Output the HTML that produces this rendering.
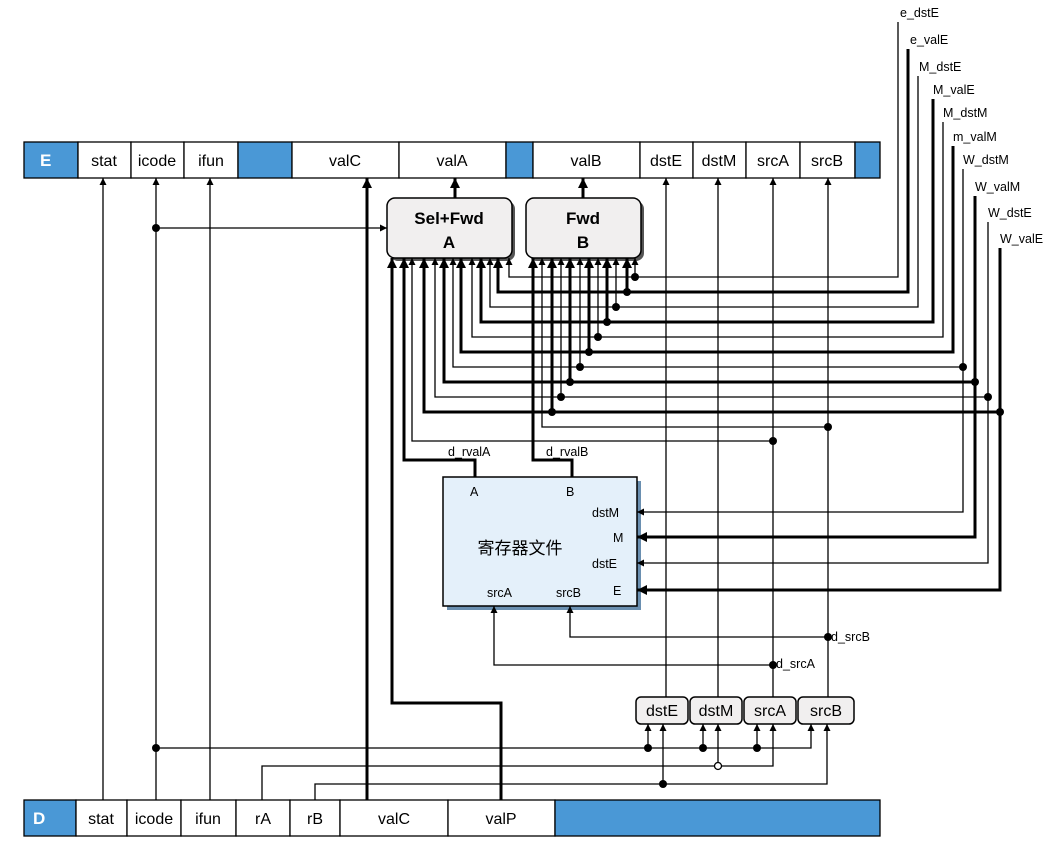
<!DOCTYPE html>
<html><head><meta charset="utf-8"><style>
html,body{margin:0;padding:0;background:#fff}
svg{display:block}
text{font-family:"Liberation Sans","Noto Sans CJK SC",sans-serif;fill:#000}
.t{stroke:#000;stroke-width:1.3;fill:none;marker-end:url(#a)}
.k{stroke:#000;stroke-width:3;fill:none;marker-end:url(#b)}
.cell{fill:#fff;stroke:#000;stroke-width:1.3}
.blue{fill:#4a98d6;stroke:#000;stroke-width:1.3}
.c{font-size:16px;text-anchor:middle}
.s{font-size:12.5px}
.bx{font-size:17px;text-anchor:middle;font-weight:bold}
</style></head><body>
<svg width="1054" height="846" viewBox="0 0 1054 846" xmlns="http://www.w3.org/2000/svg">
<defs>
<marker id="a" viewBox="0 0 10 10" refX="10" refY="5" markerWidth="7" markerHeight="8" markerUnits="userSpaceOnUse" orient="auto"><path d="M0,0 L10,5 L0,10 z" fill="#000"/></marker>
<marker id="b" viewBox="0 0 10 10" refX="10" refY="5" markerWidth="10" markerHeight="10" markerUnits="userSpaceOnUse" orient="auto"><path d="M0,0 L10,5 L0,10 z" fill="#000"/></marker>
</defs>

<rect class="blue" x="24" y="142" width="54" height="36"/>
<text x="40" y="166" style="font-size:17px;font-weight:bold;fill:#fff">E</text>
<rect class="cell" x="78" y="142" width="53" height="36"/><text class="c" x="104" y="166">stat</text>
<rect class="cell" x="131" y="142" width="53" height="36"/><text class="c" x="157" y="166">icode</text>
<rect class="cell" x="184" y="142" width="54" height="36"/><text class="c" x="211" y="166">ifun</text>
<rect class="blue" x="238" y="142" width="54" height="36"/>
<rect class="cell" x="292" y="142" width="107" height="36"/><text class="c" x="345" y="166">valC</text>
<rect class="cell" x="399" y="142" width="107" height="36"/><text class="c" x="452" y="166">valA</text>
<rect class="blue" x="506" y="142" width="27" height="36"/>
<rect class="cell" x="533" y="142" width="107" height="36"/><text class="c" x="586" y="166">valB</text>
<rect class="cell" x="640" y="142" width="53" height="36"/><text class="c" x="666" y="166">dstE</text>
<rect class="cell" x="693" y="142" width="53" height="36"/><text class="c" x="719" y="166">dstM</text>
<rect class="cell" x="746" y="142" width="54" height="36"/><text class="c" x="773" y="166">srcA</text>
<rect class="cell" x="800" y="142" width="55" height="36"/><text class="c" x="827" y="166">srcB</text>
<rect class="blue" x="855" y="142" width="25" height="36"/>

<rect class="blue" x="24" y="800" width="52" height="36"/>
<text x="33" y="824" style="font-size:17px;font-weight:bold;fill:#fff">D</text>
<rect class="cell" x="76" y="800" width="51" height="36"/><text class="c" x="101" y="824">stat</text>
<rect class="cell" x="127" y="800" width="54" height="36"/><text class="c" x="154" y="824">icode</text>
<rect class="cell" x="181" y="800" width="55" height="36"/><text class="c" x="208" y="824">ifun</text>
<rect class="cell" x="236" y="800" width="54" height="36"/><text class="c" x="263" y="824">rA</text>
<rect class="cell" x="290" y="800" width="50" height="36"/><text class="c" x="315" y="824">rB</text>
<rect class="cell" x="340" y="800" width="108" height="36"/><text class="c" x="394" y="824">valC</text>
<rect class="cell" x="448" y="800" width="107" height="36"/><text class="c" x="501" y="824">valP</text>
<rect class="blue" x="555" y="800" width="325" height="36"/>

<rect x="390" y="201" width="125" height="60" rx="8" fill="#555"/>
<rect x="387" y="198" width="125" height="60" rx="8" fill="#f1efef" stroke="#000" stroke-width="1.5"/>
<text class="bx" x="449" y="224">Sel+Fwd</text><text class="bx" x="449" y="248">A</text>
<rect x="529" y="201" width="115" height="60" rx="8" fill="#555"/>
<rect x="526" y="198" width="115" height="60" rx="8" fill="#f1efef" stroke="#000" stroke-width="1.5"/>
<text class="bx" x="583" y="224">Fwd</text><text class="bx" x="583" y="248">B</text>

<rect x="447" y="481" width="194" height="129" fill="#6a8fb0"/>
<rect x="443" y="477" width="194" height="129" fill="#e4f0fa" stroke="#000" stroke-width="1.5"/>
<text x="470" y="496" class="s">A</text>
<text x="566" y="496" class="s">B</text>
<text x="592" y="517" class="s">dstM</text>
<text x="613" y="542" class="s">M</text>
<text x="592" y="568" class="s">dstE</text>
<text x="613" y="595" class="s">E</text>
<text x="487" y="597" class="s">srcA</text>
<text x="556" y="597" class="s">srcB</text>
<text x="520" y="554" style="font-size:17px;text-anchor:middle">寄存器文件</text>

<rect x="636" y="697" width="52" height="27" rx="5" fill="#f1efef" stroke="#000" stroke-width="1.5"/><text class="c" x="662" y="716">dstE</text>
<rect x="690" y="697" width="52" height="27" rx="5" fill="#f1efef" stroke="#000" stroke-width="1.5"/><text class="c" x="716" y="716">dstM</text>
<rect x="744" y="697" width="52" height="27" rx="5" fill="#f1efef" stroke="#000" stroke-width="1.5"/><text class="c" x="770" y="716">srcA</text>
<rect x="798" y="697" width="56" height="27" rx="5" fill="#f1efef" stroke="#000" stroke-width="1.5"/><text class="c" x="826" y="716">srcB</text>

<text x="900" y="17" class="s">e_dstE</text>
<text x="910" y="44" class="s">e_valE</text>
<text x="919" y="71" class="s">M_dstE</text>
<text x="933" y="94" class="s">M_valE</text>
<text x="943" y="117" class="s">M_dstM</text>
<text x="953" y="141" class="s">m_valM</text>
<text x="963" y="164" class="s">W_dstM</text>
<text x="975" y="191" class="s">W_valM</text>
<text x="988" y="217" class="s">W_dstE</text>
<text x="1000" y="243" class="s">W_valE</text>

<path class="t" d="M898 22 V277 H509 V258"/>
<path class="k" d="M908 49 V292 H498 V258"/>
<path class="t" d="M918 76 V307 H490 V258"/>
<path class="k" d="M933 99 V322 H481 V258"/>
<path class="t" d="M943 122 V337 H472 V258"/>
<path class="k" d="M953 146 V352 H461 V258"/>
<path class="t" d="M963 367 H453 V258"/>
<path class="k" d="M975 382 H444 V258"/>
<path class="t" d="M988 397 H435 V258"/>
<path class="k" d="M1000 412 H424 V258"/>
<path class="t" d="M963 169 V512 H637"/>
<path class="k" d="M975 196 V537 H637"/>
<path class="t" d="M988 222 V563 H637"/>
<path class="k" d="M1000 248 V590 H637"/>

<path class="t" d="M635 277 V258"/>
<path class="k" d="M627 292 V258"/>
<path class="t" d="M616 307 V258"/>
<path class="k" d="M607 322 V258"/>
<path class="t" d="M598 337 V258"/>
<path class="k" d="M589 352 V258"/>
<path class="t" d="M580 367 V258"/>
<path class="k" d="M570 382 V258"/>
<path class="t" d="M561 397 V258"/>
<path class="k" d="M552 412 V258"/>

<g fill="#000">
<circle cx="635" cy="277" r="4"/><circle cx="627" cy="292" r="4"/><circle cx="616" cy="307" r="4"/>
<circle cx="607" cy="322" r="4"/><circle cx="598" cy="337" r="4"/><circle cx="589" cy="352" r="4"/>
<circle cx="580" cy="367" r="4"/><circle cx="570" cy="382" r="4"/><circle cx="561" cy="397" r="4"/>
<circle cx="552" cy="412" r="4"/>
<circle cx="963" cy="367" r="4"/><circle cx="975" cy="382" r="4"/><circle cx="988" cy="397" r="4"/><circle cx="1000" cy="412" r="4"/>
</g>

<path class="t" d="M828 697 V178"/>
<path class="t" d="M773 697 V178"/>
<path class="t" d="M718 697 V178"/>
<path class="t" d="M666 697 V178"/>
<path class="t" d="M828 427 H542 V258"/>
<path class="t" d="M773 441 H412 V258"/>
<path class="t" d="M828 637 H570 V606"/>
<path class="t" d="M773 665 H494 V606"/>
<g fill="#000">
<circle cx="828" cy="427" r="4"/><circle cx="773" cy="441" r="4"/>
<circle cx="828" cy="637" r="4"/><circle cx="773" cy="665" r="4"/>
</g>
<text x="831" y="641" class="s">d_srcB</text>
<text x="776" y="668" class="s">d_srcA</text>

<path class="k" d="M475 477 V460 H404 V258"/>
<path class="k" d="M572 477 V460 H533 V258"/>
<text x="448" y="456" class="s">d_rvalA</text>
<text x="546" y="456" class="s">d_rvalB</text>

<path class="k" d="M501 800 V703 H392 V258"/>
<path class="k" d="M367 800 V178"/>
<path class="t" d="M103 800 V178"/>
<path class="t" d="M156 800 V178"/>
<path class="t" d="M210 800 V178"/>
<path class="t" d="M156 228 H387"/>
<path class="k" d="M455 198 V178"/>
<path class="k" d="M583 198 V178"/>

<path class="t" d="M156 748 H811 V724"/>
<path class="t" d="M648 748 V724"/>
<path class="t" d="M703 748 V724"/>
<path class="t" d="M757 748 V724"/>
<path class="t" d="M262 800 V766 H773 V724"/>
<path class="t" d="M718 762 V724"/>
<path class="t" d="M315 800 V784 H827 V724"/>
<path class="t" d="M663 784 V724"/>
<g fill="#000">
<circle cx="156" cy="228" r="4"/><circle cx="156" cy="748" r="4"/>
<circle cx="648" cy="748" r="4"/><circle cx="703" cy="748" r="4"/><circle cx="757" cy="748" r="4"/>
<circle cx="663" cy="784" r="4"/>
</g>
<circle cx="718" cy="766" r="3.5" fill="#fff" stroke="#000" stroke-width="1.3"/>
</svg>
</body></html>
